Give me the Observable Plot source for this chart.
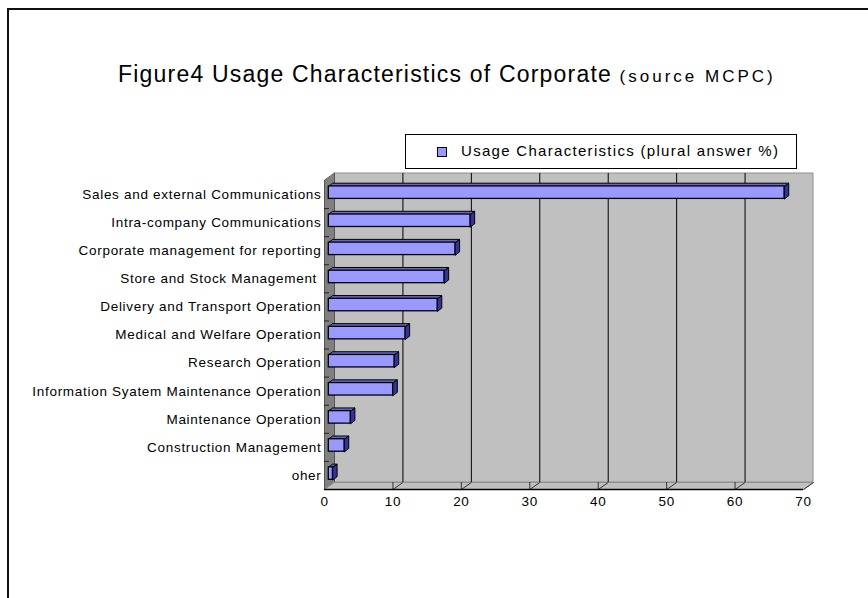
<!DOCTYPE html>
<html><head><meta charset="utf-8">
<script src="https://cdn.jsdelivr.net/npm/d3@7"></script>
<script src="https://cdn.jsdelivr.net/npm/@observablehq/plot@0.6"></script>
<style>
body{margin:0;background:#fff}
#wrap{position:relative;width:868px;height:598px;overflow:hidden;background:#fff;font-family:"Liberation Sans",Arial,sans-serif;color:#000}
#frame{position:absolute;left:7px;top:8px;width:1000px;height:1000px;border:2px solid #111;box-sizing:border-box}
#chart{position:absolute;left:0;top:0}
#title{position:absolute;left:118px;top:61px;font-size:23px;white-space:nowrap;letter-spacing:1.2px}
#title span{font-size:17px;letter-spacing:3px}
#legend{position:absolute;left:405px;top:134px;width:392px;height:35px;border:1px solid #000;box-sizing:border-box;background:#fff;font-size:15px;letter-spacing:1.3px}
#legend .sw{position:absolute;left:31px;top:12px;width:8px;height:8px;background:#9999ff;border:1px solid #000}
#legend .lt{position:absolute;left:55px;top:7px;white-space:nowrap}
</style></head><body>
<div id="wrap">
<div id="frame"></div>
<div id="chart"></div>
<div id="title">Figure4 Usage Characteristics of Corporate <span>(source MCPC)</span></div>
<div id="legend"><span class="sw"></span><span class="lt" id="legtext"></span></div>
</div>
<script>
// ---- data ----
const categories = [
  "Sales and external Communications",
  "Intra-company Communications",
  "Corporate management for reporting",
  "Store and Stock Management\u00a0",
  "Delivery and Transport Operation",
  "Medical and Welfare Operation",
  "Research Operation",
  "Information Syatem Maintenance Operation",
  "Maintenance Operation",
  "Construction Management",
  "oher"
];
const values = [66.6, 20.7, 18.5, 16.9, 15.9, 11.2, 9.6, 9.4, 3.2, 2.3, 0.6];
const xTicks = [0, 10, 20, 30, 40, 50, 60, 70];
const seriesName = "Usage Characteristics (plural answer %)";

document.getElementById("legtext").textContent = seriesName;

// ---- layout / style constants ----
const W = 868, H = 598;
const mL = 324, mR = 65, mT = 180, mB = 109;
const XMAX = d3.max(xTicks), N = categories.length;
const kx = (W - mL - mR) / XMAX;   // px per x unit
const ky = (H - mT - mB) / N;      // px per band
const wallDX = 10, wallDY = -7;    // depth of walls in px
const barDX = 4.3;                 // bar position in depth (px)
const barD = 4.2, barDY = -3.2;    // bar extrusion in px
const wdx = wallDX / kx, wdy = wallDY / ky;
const bdx = barD / kx, bdy = barDY / ky;
const bT = 0.21, bB = 0.655;

const rows = categories.map((c, i) => ({c, i, v: values[i]}));

// polygons (data space)
const poly = [];
[[0, 0], [0, N], [wdx, N + wdy], [wdx, wdy]].forEach(([x, y]) => poly.push({id: "side", x, y}));
const floor = [[0, N], [XMAX, N], [XMAX + wdx, N + wdy], [wdx, N + wdy]].map(([x, y]) => ({id: "floor", x, y}));

const topFaces = [], sideFaces = [];
rows.forEach(r => {
  const yT = r.i + bT, yB = r.i + bB;
  [[0, yT], [r.v, yT], [r.v + bdx, yT + bdy], [bdx, yT + bdy]].forEach(([x, y]) => topFaces.push({id: r.i, x, y}));
  [[r.v, yT], [r.v + bdx, yT + bdy], [r.v + bdx, yB + bdy], [r.v, yB]].forEach(([x, y]) => sideFaces.push({id: r.i, x, y}));
});

const chart = Plot.plot({
  width: W, height: H,
  marginLeft: mL, marginRight: mR, marginTop: mT, marginBottom: mB,
  style: {background: "transparent", fontFamily: "'Liberation Sans', Arial, sans-serif", fontSize: "13.5px", letterSpacing: "0.7px", color: "#000", overflow: "visible"},
  x: {domain: [0, XMAX], ticks: xTicks, tickSize: 0, tickPadding: 7, label: null},
  y: {domain: [0, N], reverse: true, ticks: categories.map((_, i) => i + 0.5), tickFormat: d => categories[Math.floor(d)], tickSize: 0, tickPadding: 3, label: null},
  marks: [
    // back wall
    Plot.rect([{x1: 0, x2: XMAX, y1: 0, y2: N}], {x1: "x1", x2: "x2", y1: "y1", y2: "y2", dx: wallDX, dy: wallDY, fill: "#c0c0c0", stroke: "#909090"}),
    // back wall gridlines
    Plot.ruleX(xTicks.filter(t => t > 0 && t < XMAX), {y1: 0, y2: N, dx: wallDX, dy: wallDY, stroke: "#000", strokeWidth: 1}),
    // side wall
    Plot.line(poly, {x: "x", y: "y", z: "id", curve: "linear-closed", fill: "#808080", stroke: "#555", strokeWidth: 1}),
    // floor
    Plot.line(floor, {x: "x", y: "y", z: "id", curve: "linear-closed", fill: "#c0c0c0", stroke: "#909090", strokeWidth: 1}),
    // floor depth lines at ticks
    Plot.link(xTicks.filter(t => t > 0), {x1: d => d, x2: d => d + wdx, y1: N, y2: N + wdy, stroke: "#333", strokeWidth: 1}),
    Plot.ruleX(xTicks.filter(t => t > 0 && t < XMAX), {y1: N + wdy, y2: N, stroke: "#333", strokeWidth: 1}),
    // front floor edge
    Plot.ruleY([N], {x1: 0, x2: XMAX, stroke: "#000", strokeWidth: 1.5}),
    // y ticks on side wall
    Plot.ruleY(d3.range(1, N), {x1: 0, x2: 5 / kx, stroke: "#222", strokeWidth: 1}),
    // bars: top face, side face, front face
    Plot.line(topFaces, {x: "x", y: "y", z: "id", curve: "linear-closed", dx: barDX, fill: "#6666cc", stroke: "#000", strokeWidth: 1}),
    Plot.line(sideFaces, {x: "x", y: "y", z: "id", curve: "linear-closed", dx: barDX, fill: "#333399", stroke: "#000", strokeWidth: 1}),
    Plot.rect(rows, {x1: 0, x2: "v", y1: d => d.i + bT, y2: d => d.i + bB, dx: barDX, fill: "#9999ff", stroke: "#000", strokeWidth: 1.3})
  ]
});
document.getElementById("chart").appendChild(chart);
</script>
</body></html>
